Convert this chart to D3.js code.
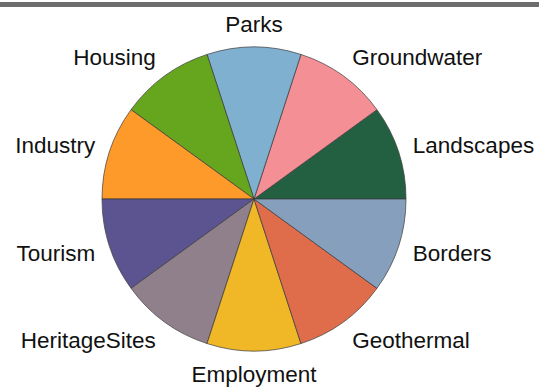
<!DOCTYPE html>
<html>
<head>
<meta charset="utf-8">
<script src="https://cdn.jsdelivr.net/npm/d3@7"></script>
<style>
  body { margin: 0; background: #fff; }
  svg { display: block; }
  text { font-family: "Liberation Sans", Arial, sans-serif; font-size: 22.5px; fill: #111; }
</style>
</head>
<body>
<div id="chart"></div>
<script>
// Slices in counter-clockwise order starting at 3 o'clock
const categories = ["Landscapes", "Groundwater", "Parks", "Housing", "Industry",
    "Tourism", "HeritageSites", "Employment", "Geothermal", "Borders"];
const values = [1, 1, 1, 1, 1, 1, 1, 1, 1, 1];
const colors = ["#236041", "#f48f96", "#80b0d0", "#66a61e", "#fe9a2a",
    "#5b5490", "#8f808b", "#f0b826", "#df6c4b", "#869fbd"];

const width = 539
const height = 388
const cx = 254
const cy = 199
const radius = 152

const svg = d3.select("#chart").append("svg")
    .attr("width", width)
    .attr("height", height)

// top rule
svg.append("rect")
    .attr("x", 0)
    .attr("y", 2)
    .attr("width", width)
    .attr("height", 5)
    .attr("fill", "#6d6d6d")

const pie = d3.pie()
    .sort(null)
    .startAngle(Math.PI / 2)
    .endAngle(Math.PI / 2 - 2 * Math.PI)

const arcs = pie(values)
const arc = d3.arc().innerRadius(0).outerRadius(radius)

const g = svg.append("g")
    .attr("transform", `translate(${cx},${cy})`)

g.selectAll("path")
    .data(arcs)
    .join("path")
        .attr("d", arc)
        .attr("fill", (d, i) => colors[i])
        .attr("stroke", "#3a3a3a")
        .attr("stroke-width", 0.7)

// labels sit outside the rim, anchored away from the pie
const labelRx = 167
const labelRy = 175
g.selectAll("text")
    .data(arcs)
    .join("text")
        .text((d, i) => categories[i])
        .attr("x", d => labelRx * Math.sin((d.startAngle + d.endAngle) / 2))
        .attr("y", d => -labelRy * Math.cos((d.startAngle + d.endAngle) / 2))
        .attr("dy", "0.35em")
        .attr("text-anchor", d => {
            const s = Math.sin((d.startAngle + d.endAngle) / 2)
            return s > 0.1 ? "start" : (s < -0.1 ? "end" : "middle")
        })
</script>
</body>
</html>
